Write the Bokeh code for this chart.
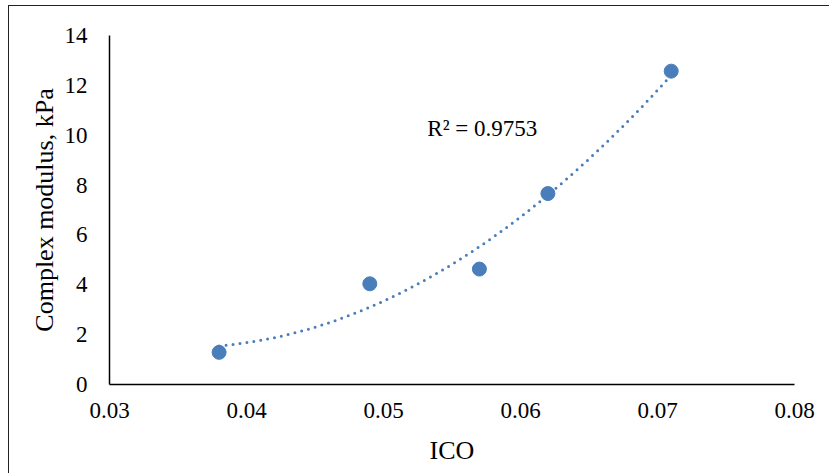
import numpy as np
from bokeh.plotting import figure
from bokeh.models import FixedTicker, Label, Range1d, CustomJSTickFormatter
from bokeh.embed import file_html
from bokeh.resources import INLINE

# data
ico = [0.038, 0.049, 0.057, 0.062, 0.071]
modulus = [1.29, 4.04, 4.63, 7.66, 12.57]
x_ticks = [0.03, 0.04, 0.05, 0.06, 0.07, 0.08]
y_ticks = [0, 2, 4, 6, 8, 10, 12, 14]
r2_text = "R² = 0.9753"

BLUE = "#4A7EBB"
FONT = "Liberation Serif"

p = figure(width=821, height=468, output_backend="svg", toolbar_location=None,
           x_range=Range1d(0.03, 0.08), y_range=Range1d(0, 14),
           min_border_left=100, min_border_right=36,
           min_border_top=29, min_border_bottom=90)
p.styles = {"border-top": "1.5px solid #222", "border-left": "1.5px solid #222",
            "margin-left": "8px", "margin-top": "5px"}
p.outline_line_color = None
p.xgrid.visible = False
p.ygrid.visible = False
p.background_fill_color = "white"
p.border_fill_color = "white"

# quadratic trendline (Excel polynomial, order 2) fitted to the data
coef = np.polyfit(ico, modulus, 2)
xs = np.linspace(min(ico), max(ico), 200)
ys = np.polyval(coef, xs)
p.line(xs, ys, line_color=BLUE, line_width=3, line_dash="0 7", line_cap="round")

p.scatter(ico, modulus, size=14, fill_color=BLUE, line_color=BLUE)

for ax in (p.xaxis[0], p.yaxis[0]):
    ax.major_tick_line_color = None
    ax.minor_tick_line_color = None
    ax.axis_line_color = "black"
    ax.axis_line_width = 1.5
    ax.major_label_text_font = FONT
    ax.major_label_text_font_size = "23px"
    ax.major_label_text_color = "black"
    ax.axis_label_text_font = FONT
    ax.axis_label_text_font_size = "26px"
    ax.axis_label_text_font_style = "normal"
    ax.axis_label_text_color = "black"

p.xaxis.ticker = FixedTicker(ticks=x_ticks)
p.xaxis.formatter = CustomJSTickFormatter(code="return tick.toFixed(2);")
p.yaxis.ticker = FixedTicker(ticks=y_ticks)
p.xaxis.axis_label = "ICO"
p.yaxis.axis_label = "Complex modulus, kPa"
p.xaxis.major_label_standoff = 12
p.yaxis.major_label_standoff = 16
p.xaxis.axis_label_standoff = 15
p.yaxis.axis_label_standoff = 3

p.add_layout(Label(x=0.0532, y=10.25, text=r2_text, text_font=FONT,
                   text_font_size="23px", text_baseline="middle", text_color="black"))

open("out.html", "w").write(file_html(p, INLINE))
